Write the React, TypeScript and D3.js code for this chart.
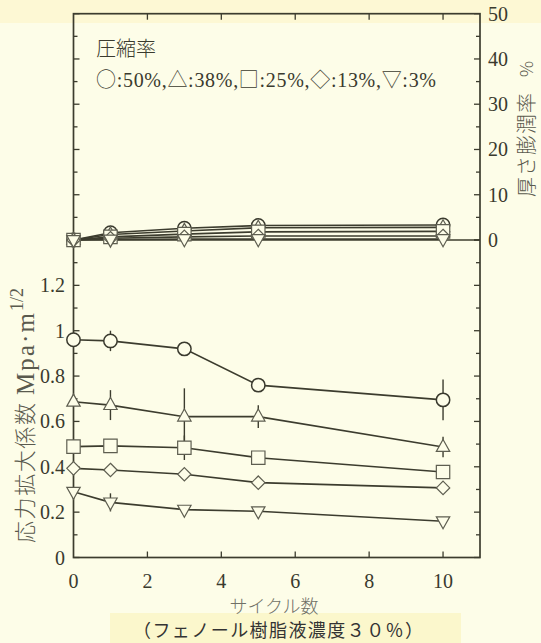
import React from "react";
import * as d3 from "d3";

// サイクル数
const cycles = [0, 1, 3, 5, 10];
const seriesKeys = ["50", "38", "25", "13", "3"];
const legendSymbols = ["○", "△", "□", "◇", "▽"];
const legendRates = ["50%", "38%", "25%", "13%", "3%"];

// 応力拡大係数 (Mpa·m^1/2)
const k50 = [0.96, 0.955, 0.92, 0.76, 0.695];
const k38 = [0.687, 0.672, 0.621, 0.621, 0.487];
const k25 = [0.489, 0.492, 0.484, 0.44, 0.377];
const k13 = [0.393, 0.386, 0.367, 0.33, 0.307];
const k3 = [0.29, 0.243, 0.211, 0.204, 0.16];

// error bar half-heights
const e50 = [0, 0.045, 0, 0, 0.09];
const e38 = [0, 0.066, 0.125, 0.05, 0.045];
const e25 = [0, 0, 0.054, 0, 0];
const e13 = [0, 0, 0, 0, 0];
const e3 = [0, 0.04, 0, 0, 0];

// 厚さ膨潤率 (%)
const s50 = [0, 1.6, 2.6, 3.2, 3.3];
const s38 = [0, 1.2, 2.0, 2.7, 2.8];
const s25 = [0, 0.7, 1.3, 1.8, 1.9];
const s13 = [0, 0.4, 0.7, 0.9, 0.9];
const s3 = [0, 0.1, 0.2, 0.2, 0.2];

const xTicks = [0, 2, 4, 6, 8, 10];
const kTicks = [0, 0.2, 0.4, 0.6, 0.8, 1, 1.2];
const sTicks = [0, 10, 20, 30, 40, 50];

const kData = [k50, k38, k25, k13, k3];
const eData = [e50, e38, e25, e13, e3];
const sData = [s50, s38, s25, s13, s3];

const W = 541, H = 643;
const L = 73.5, R = 480, T = 13.7, MID = 240, B = 557.5;
const INK = "#3c3c2e";
const SERIF = "'Liberation Serif', 'DejaVu Serif', serif";
const JP = "'Noto Sans CJK JP', sans-serif";

function markerPath(key: string): string {
  const r = 6.7;
  switch (key) {
    case "50": {
      const p = d3.path();
      p.arc(0, 0, r, 0, Math.PI * 2);
      return p.toString();
    }
    case "38":
      return `M0,${-7.6}L${r},${4.4}L${-r},${4.4}Z`;
    case "25":
      return `M${-r},${-r}H${r}V${r}H${-r}Z`;
    case "13":
      return `M0,${-r}L${r},0L0,${r}L${-r},0Z`;
    default:
      return `M0,${7.6}L${r},${-4.4}L${-r},${-4.4}Z`;
  }
}

export default function App() {
  const x = d3.scaleLinear().domain([0, 11]).range([L, R]);
  const yK = d3.scaleLinear().domain([0, 1.4]).range([B, MID]);
  const yS = d3.scaleLinear().domain([0, 50]).range([MID, T]);

  const lineK = (vals: number[]) =>
    d3.line<number>().x((_, i) => x(cycles[i])).y((v) => yK(v))(vals) || "";
  const lineS = (vals: number[]) =>
    d3.line<number>().x((_, i) => x(cycles[i])).y((v) => yS(v))(vals) || "";

  const minorK = d3.range(0, 1.401, 0.1);
  const minorS = d3.range(0, 50.01, 5);

  return (
    <svg width={W} height={H} style={{ position: "absolute", left: 0, top: 0, display: "block" }}>
      <rect x={0} y={0} width={W} height={H} fill="#fdfde8" />
      <rect x={0} y={0} width={W} height={23} fill="#fdf8d4" />
      <rect x={110} y={613} width={351} height={30} fill="#fbf7cc" />

      {/* ticks */}
      <g stroke={INK} strokeWidth={1.3}>
        {minorK.map((v, i) => {
          const len = i % 2 === 0 ? 6 : 4;
          return (
            <g key={"k" + i}>
              <line x1={L} x2={L + len} y1={yK(v)} y2={yK(v)} />
              <line x1={R} x2={R - len} y1={yK(v)} y2={yK(v)} />
            </g>
          );
        })}
        {minorS.map((v, i) => {
          const len = i % 2 === 0 ? 6 : 4;
          return (
            <g key={"s" + i}>
              <line x1={L} x2={L + len} y1={yS(v)} y2={yS(v)} />
              <line x1={R} x2={R - len} y1={yS(v)} y2={yS(v)} />
            </g>
          );
        })}
        {xTicks.slice(1).map((t) => (
          <g key={"x" + t}>
            <line x1={x(t)} x2={x(t)} y1={B} y2={B - 6} />
            <line x1={x(t)} x2={x(t)} y1={T} y2={T + 6} />
          </g>
        ))}
      </g>

      {/* frame + zero line of upper panel */}
      <rect x={L} y={T} width={R - L} height={B - T} fill="none" stroke={INK} strokeWidth={1.7} />
      <line x1={L} x2={R} y1={MID} y2={MID} stroke={INK} strokeWidth={1.5} />

      {/* tick labels */}
      <g fontFamily={SERIF} fontSize={20} fill="#3a3a2e">
        {kTicks.map((t) => (
          <text key={"kl" + t} x={65} y={yK(t)} dy="0.35em" textAnchor="end">
            {String(t)}
          </text>
        ))}
        {sTicks.map((t) => (
          <text key={"sl" + t} x={488} y={yS(t)} dy="0.35em">
            {String(t)}
          </text>
        ))}
        {xTicks.map((t) => (
          <text key={"xl" + t} x={x(t)} y={588} textAnchor="middle">
            {String(t)}
          </text>
        ))}
      </g>

      {/* series lines */}
      <g fill="none" stroke={INK} strokeWidth={1.6}>
        {kData.map((vals, i) => (
          <path key={"lk" + i} d={lineK(vals)} />
        ))}
        {sData.map((vals, i) => (
          <path key={"ls" + i} d={lineS(vals)} />
        ))}
      </g>

      {/* error bars */}
      <g stroke={INK} strokeWidth={1.4}>
        {kData.map((vals, i) =>
          vals.map((v, j) =>
            eData[i][j] > 0 ? (
              <line
                key={"e" + i + "-" + j}
                x1={x(cycles[j])}
                x2={x(cycles[j])}
                y1={yK(v + eData[i][j])}
                y2={yK(v - eData[i][j])}
              />
            ) : null
          )
        )}
      </g>

      {/* markers */}
      {seriesKeys.map((key, i) => (
        <g key={"m" + key} fill="#fdfde8" stroke={key === "50" ? "#3a3a2e" : "#5e5e50"} strokeWidth={key === "50" ? 1.5 : 1.2}>
          {kData[i].map((v, j) => (
            <path key={"mk" + j} d={markerPath(key)} transform={`translate(${x(cycles[j])},${yK(v)})`} />
          ))}
          {sData[i].map((v, j) => (
            <path key={"ms" + j} d={markerPath(key)} transform={`translate(${x(cycles[j])},${yS(v)})`} />
          ))}
        </g>
      ))}

      {/* legend */}
      <g fill="#3a3a2e" fontSize={20}>
        <text x={96} y={56} fontFamily={JP} fontWeight={300}>圧縮率</text>
        <text x={96} y={87} fontFamily={SERIF} textLength={340} lengthAdjust="spacing">
          {legendSymbols.map((s, i) => (
            <React.Fragment key={"lg" + i}>
              <tspan fontFamily={JP} fontWeight={300}>{s}</tspan>
              <tspan>{":" + legendRates[i] + (i < legendSymbols.length - 1 ? "," : "")}</tspan>
            </React.Fragment>
          ))}
        </text>
      </g>

      {/* axis titles */}
      <g transform="translate(25,543) rotate(-90)" fill="#5a5a4e">
        <text x={0} y={0} dy="0.35em" fontFamily={JP} fontWeight={300} fontSize={22} textLength={140} lengthAdjust="spacing">
          応力拡大係数
        </text>
        <text x={148} y={0} dy="0.35em" fontFamily={SERIF} fontSize={25} textLength={82} lengthAdjust="spacing">
          Mpa·m
        </text>
        <text x={232} y={-8} dy="0.35em" fontFamily={SERIF} fontSize={18}>
          1/2
        </text>
      </g>
      <g transform="translate(527,197) rotate(-90)" fill="#5a5a4e">
        <text x={0} y={0} dy="0.35em" fontFamily={JP} fontWeight={300} fontSize={20} textLength={104} lengthAdjust="spacing">
          厚さ膨潤率
        </text>
        <text x={120} y={0} dy="0.35em" fontFamily={JP} fontWeight={300} fontSize={18}>
          %
        </text>
      </g>
      <text x={274} y={613} textAnchor="middle" fontFamily={JP} fontWeight={300} fontSize={18} fill="#707066">
        サイクル数
      </text>
      <text x={278} y={637} textAnchor="middle" fontFamily={JP} fontSize={18} fill="#333333" textLength={290} lengthAdjust="spacing">
        （フェノール樹脂液濃度３０％）
      </text>
    </svg>
  );
}
